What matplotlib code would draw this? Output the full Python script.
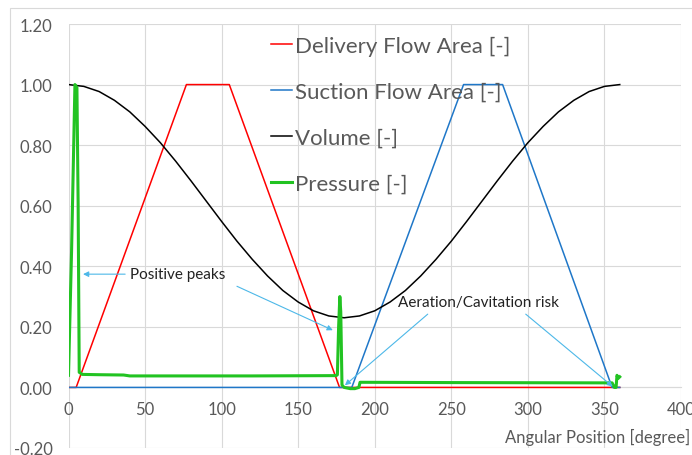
import numpy as np
import matplotlib
matplotlib.use("Agg")
import matplotlib.pyplot as plt
from matplotlib.patches import Rectangle

# ---- data ----
delivery_angle = [0, 5, 77, 105, 177, 360]
delivery_area = [0, 0, 1.0, 1.0, 0, 0]

suction_angle = [0, 185, 258, 283.5, 355, 360]
suction_area = [0, 0, 1.0, 1.0, 0, 0]

volume_angle = [0, 10, 20, 30, 40, 50, 60, 70, 80, 90, 100, 110, 120, 130,
                140, 150, 160, 170, 180, 190, 200, 210, 220, 230, 240, 250,
                260, 270, 280, 290, 300, 310, 320, 330, 340, 350, 360]
volume = [1.0, 0.994, 0.977, 0.948, 0.910, 0.862, 0.808, 0.747, 0.682, 0.615,
          0.548, 0.483, 0.423, 0.368, 0.320, 0.282, 0.253, 0.236, 0.230,
          0.236, 0.253, 0.282, 0.320, 0.368, 0.423, 0.483, 0.548, 0.615,
          0.682, 0.747, 0.808, 0.862, 0.910, 0.948, 0.977, 0.994, 1.0]

pressure_angle = [0, 2, 4.2, 5.5, 6.3, 7.0, 9, 20, 36, 40, 120, 174.8, 175.6,
                  176.4, 177.2, 177.8, 178.6, 180, 184, 187, 189.6, 190.4,
                  250, 355, 356.5, 357.6, 358.2, 359, 360]
pressure = [0.04, 0.45, 1.0, 0.99, 0.6, 0.05, 0.043, 0.042, 0.041, 0.038,
            0.038, 0.039, 0.042, 0.2, 0.30, 0.25, 0.008, 0.0, -0.004, -0.004,
            0.0, 0.017, 0.016, 0.015, 0.0, 0.0, 0.04, 0.03, 0.035]

x_ticks = [0, 50, 100, 150, 200, 250, 300, 350, 400]
y_ticks = [-0.2, 0.0, 0.2, 0.4, 0.6, 0.8, 1.0, 1.2]

plt.rcParams['font.family'] = ['Lato', 'DejaVu Sans']

W, H = 692, 456
fig = plt.figure(figsize=(W / 100, H / 100), dpi=100)
ax = fig.add_axes([68.5 / W, 1 - 449 / H, (681 - 68.5) / W, (449 - 25) / H])

# outer chart border (Excel style)
fig.patches.append(Rectangle((10 / W, -0.2), 1.2, 1.2 - 9 / H,
                             transform=fig.transFigure, fill=False,
                             edgecolor='#D9D9D9', linewidth=0.8))

ax.plot(delivery_angle, delivery_area, color='#FF0000', lw=1.1, label='Delivery Flow Area [-]')
ax.plot(suction_angle, suction_area, color='#1F77C8', lw=1.1, label='Suction Flow Area [-]')
ax.plot(volume_angle, volume, color='black', lw=1.1, label='Volume [-]')
ax.plot(pressure_angle, pressure, color='#22C322', lw=2.2, label='Pressure [-]')

ax.set_xlim(0, 400)
ax.set_ylim(-0.2, 1.2)
ax.set_xticks(x_ticks)
ax.set_yticks(y_ticks)
ax.set_yticklabels([f"{v:.2f}" for v in y_ticks])
ax.grid(True, color='#D9D9D9', lw=0.8)
ax.set_axisbelow(True)
for s in ['top', 'right', 'left']:
    ax.spines[s].set_visible(False)
ax.spines['bottom'].set_position(('data', 0))
ax.spines['bottom'].set_color('#D9D9D9')
ax.spines['bottom'].set_zorder(0.5)
ax.tick_params(axis='both', length=0, labelsize=12, labelcolor='#595959')
ax.tick_params(axis='y', pad=11.5)
ax.tick_params(axis='x', pad=10)

fig.text(690 / W, 1 - 437 / H, 'Angular Position [degree]', ha='right', va='center',
         fontsize=12, color='#595959')

leg = ax.legend(loc='upper left', bbox_to_anchor=(271 / W, 1 - 37 / H),
                bbox_transform=fig.transFigure, frameon=False, fontsize=16,
                handlelength=0.95, handletextpad=0.12, labelspacing=1.16,
                borderpad=0, borderaxespad=0)
for t in leg.get_texts():
    t.set_color('#595959')

# annotations
arrow_kw = dict(arrowstyle='-|>', color='#4DB8E8', lw=0.8, mutation_scale=8,
                shrinkA=0, shrinkB=0)
ax.annotate('', xy=(9.5, 0.374), xytext=(37, 0.374), arrowprops=arrow_kw)
ax.text(40, 0.374, 'Positive peaks', fontsize=11, color='#222222', va='center')
ax.annotate('', xy=(172.6, 0.189), xytext=(110, 0.334), arrowprops=arrow_kw)

ax.text(215, 0.281, 'Aeration/Cavitation risk', fontsize=11, color='#222222', va='center')
ax.annotate('', xy=(180.5, 0.007), xytext=(234.6, 0.242), arrowprops=arrow_kw)
ax.annotate('', xy=(355.4, 0.003), xytext=(298.6, 0.242), arrowprops=arrow_kw)

fig.savefig('out.png', dpi=100)
